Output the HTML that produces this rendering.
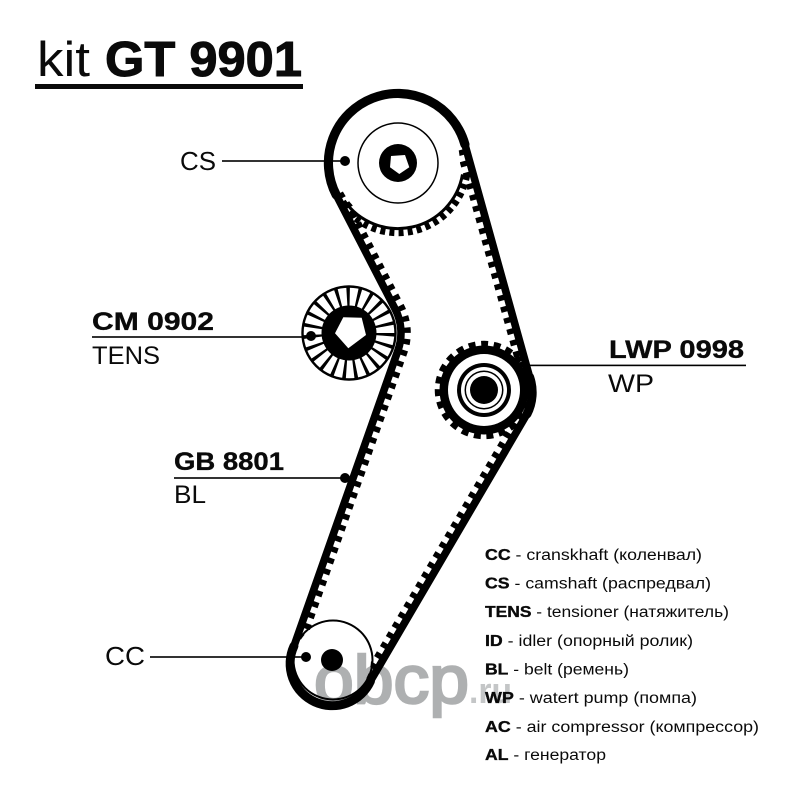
<!DOCTYPE html>
<html><head><meta charset="utf-8"><style>
html,body{margin:0;padding:0;background:#fff}
svg{display:block}
text{font-family:"Liberation Sans",sans-serif;fill:#0a0a0a}
.b{font-weight:bold;stroke:#0a0a0a;stroke-width:.35px}
.t{font-weight:bold;stroke:#0a0a0a;stroke-width:1px}
.l{font-size:15.5px}
.m{font-size:25px}
</style></head><body>
<svg width="801" height="800" viewBox="0 0 801 800" xmlns="http://www.w3.org/2000/svg">
<rect width="801" height="800" fill="#fff"/>
<!-- title -->
<text x="37" y="76" font-size="49" textLength="53" lengthAdjust="spacingAndGlyphs">kit</text>
<text x="105" y="76" font-size="49" class="t" textLength="197" lengthAdjust="spacingAndGlyphs">GT 9901</text>
<rect x="35" y="84" width="268" height="5" fill="#0a0a0a"/>

<!-- CS inner teeth -->
<path d="M462.5 174.4A65.5 65.5 0 0 1 344.3 200.6" fill="none" stroke="#000" stroke-width="3"/>
<path d="M466.9 175.2A70 70 0 0 1 340.7 203.2" fill="none" stroke="#000" stroke-width="6.5" stroke-dasharray="5 4.2"/>
<!-- belt teeth -->
<path d="M342 192L401 306A58.5 58.5 0 0 1 404.2 352.4L300 648.4" fill="none" stroke="#000" stroke-width="6.5" stroke-dasharray="5.5 6.1"/>
<path d="M365.2 677.7L521.4 410.7" fill="none" stroke="#000" stroke-width="6.5" stroke-dasharray="5.5 6.1"/>
<path d="M523.4 379L458.6 146" fill="none" stroke="#000" stroke-width="6.5" stroke-dasharray="5.5 6.1"/>

<!-- white faces -->
<circle cx="398" cy="163" r="62" fill="#fff"/>
<circle cx="333" cy="660" r="38" fill="#fff"/>

<!-- belt -->
<path d="M336.2 194.9L395.2 309.1A52 52 0 0 1 398 350.3L293.9 646.2A41.5 41.5 0 0 0 370.5 681L527 414A47.5 47.5 0 0 0 529.7 377.3L464.9 144.4A69.5 69.5 0 1 0 336.2 194.9Z" fill="none" stroke="#000" stroke-width="7.6" stroke-linejoin="round"/>
<path d="M464.9 144.4A69.5 69.5 0 1 0 336.2 194.9" fill="none" stroke="#000" stroke-width="9.2" stroke-linecap="round"/>
<path d="M293.9 646.2A41.5 41.5 0 0 0 370.5 681" fill="none" stroke="#000" stroke-width="9" stroke-linecap="round"/>
<path d="M527 414A47.5 47.5 0 0 0 529.7 377.3" fill="none" stroke="#000" stroke-width="9" stroke-linecap="round"/>

<!-- CS -->
<circle cx="398" cy="163" r="40" fill="none" stroke="#000" stroke-width="1.5"/>
<circle cx="398" cy="163" r="19" fill="#000"/>
<polygon points="391,156 405,155 409.3,167.3 399.3,174 390,167.3" fill="#fff"/>
<circle cx="345" cy="161" r="5" fill="#000"/>
<rect x="222" y="160.2" width="123" height="1.6" fill="#000"/>
<text x="180" y="170" font-size="26" textLength="36" lengthAdjust="spacingAndGlyphs">CS</text>

<!-- Tensioner -->
<circle cx="349" cy="333" r="46.5" fill="#fff" stroke="#000" stroke-width="2.4"/>
<circle cx="349" cy="333" r="37" fill="none" stroke="#000" stroke-width="20" stroke-dasharray="3 7.108"/>
<circle cx="349" cy="333" r="27.5" fill="#000"/>
<polygon points="343.3,317.3 361.7,317.7 366,335 348.3,348.3 335,333.3" fill="#fff"/>
<circle cx="311" cy="336" r="5" fill="#000"/>
<rect x="92" y="336.2" width="219" height="1.6" fill="#000"/>
<text x="92" y="330" class="m b" textLength="122" lengthAdjust="spacingAndGlyphs">CM 0902</text>
<text x="92" y="364" font-size="25" textLength="68" lengthAdjust="spacingAndGlyphs">TENS</text>

<!-- Water pump -->
<circle cx="484" cy="390" r="46.5" fill="none" stroke="#000" stroke-width="5.5" stroke-dasharray="7 5.7"/>
<circle cx="484" cy="390" r="44.5" fill="#000"/>
<circle cx="484" cy="390" r="36" fill="#fff"/>
<circle cx="484" cy="390" r="27" fill="#000"/>
<circle cx="484" cy="390" r="23" fill="#fff"/>
<circle cx="484" cy="390" r="19.5" fill="#000"/>
<circle cx="484" cy="390" r="18" fill="#fff"/>
<circle cx="484" cy="390" r="14" fill="#000"/>
<rect x="528" y="364.6" width="218" height="1.6" fill="#000"/>
<text x="609" y="358" class="m b" textLength="135" lengthAdjust="spacingAndGlyphs">LWP 0998</text>
<text x="608" y="392" font-size="25" textLength="46" lengthAdjust="spacingAndGlyphs">WP</text>

<!-- GB -->
<circle cx="345" cy="478" r="5" fill="#000"/>
<rect x="174" y="477.2" width="171" height="1.6" fill="#000"/>
<text x="174" y="470" class="m b" textLength="110" lengthAdjust="spacingAndGlyphs">GB 8801</text>
<text x="174" y="503" font-size="25" textLength="32" lengthAdjust="spacingAndGlyphs">BL</text>

<!-- CC -->
<circle cx="333" cy="660" r="39.5" fill="none" stroke="#000" stroke-width="2"/>
<circle cx="332" cy="660" r="11" fill="#000"/>
<circle cx="306" cy="657" r="5" fill="#000"/>
<rect x="150" y="656.2" width="156" height="1.6" fill="#000"/>
<text x="105" y="665" font-size="26" textLength="40" lengthAdjust="spacingAndGlyphs">CC</text>

<!-- legend -->
<text x="485" y="560" class="l" textLength="217" lengthAdjust="spacingAndGlyphs"><tspan class="b">CC</tspan> - cranskhaft (коленвал)</text>
<text x="485" y="588.5" class="l" textLength="226" lengthAdjust="spacingAndGlyphs"><tspan class="b">CS</tspan> - camshaft (распредвал)</text>
<text x="485" y="617" class="l" textLength="244" lengthAdjust="spacingAndGlyphs"><tspan class="b">TENS</tspan> - tensioner (натяжитель)</text>
<text x="485" y="646" class="l" textLength="208" lengthAdjust="spacingAndGlyphs"><tspan class="b">ID</tspan> - idler (опорный ролик)</text>
<text x="485" y="674.5" class="l" textLength="144" lengthAdjust="spacingAndGlyphs"><tspan class="b">BL</tspan> - belt (ремень)</text>
<text x="485" y="703" class="l" textLength="212" lengthAdjust="spacingAndGlyphs"><tspan class="b">WP</tspan> - watert pump (помпа)</text>
<text x="485" y="732" class="l" textLength="274" lengthAdjust="spacingAndGlyphs"><tspan class="b">AC</tspan> - air compressor (компрессор)</text>
<text x="485" y="760" class="l" textLength="121" lengthAdjust="spacingAndGlyphs"><tspan class="b">AL</tspan> - генератор</text>

<!-- watermark -->
<g style="mix-blend-mode:multiply">
<text x="314" y="703" font-size="68" textLength="155" lengthAdjust="spacingAndGlyphs" style="fill:#aeb0b1;stroke:#aeb0b1;stroke-width:2.5px">obcp</text>
<text x="469" y="703" font-size="36" font-weight="bold" textLength="43" lengthAdjust="spacingAndGlyphs" style="fill:#c4c6c7">.ru</text>
</g>
</svg>
</body></html>
